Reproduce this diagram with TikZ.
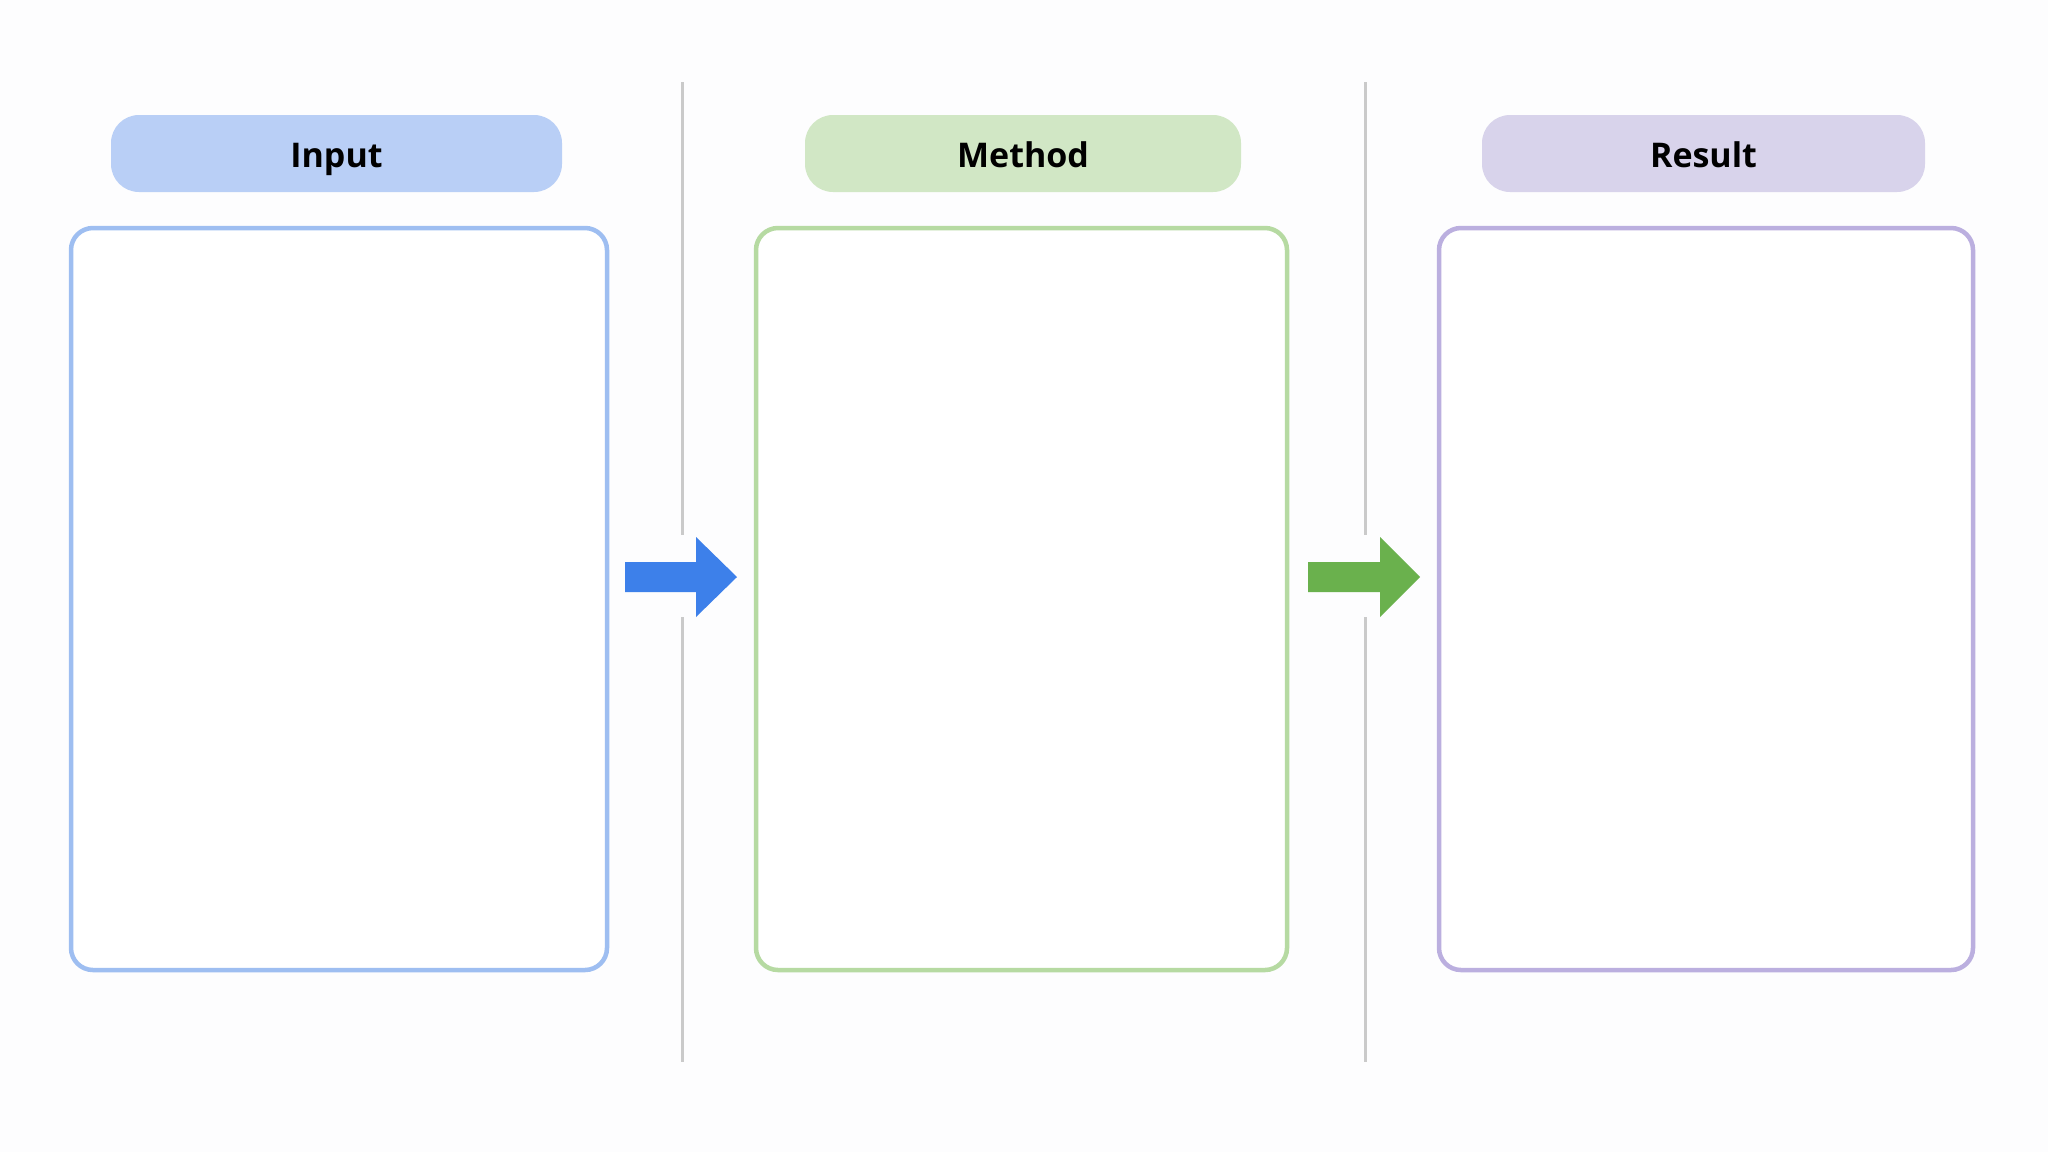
\documentclass[tikz,border=0pt]{standalone}
\usepackage{fontspec}
\setmainfont{Open Sans}
\definecolor{bgc}{HTML}{FDFDFE}
\definecolor{hblue}{HTML}{B9CFF6}
\definecolor{sblue}{HTML}{9EBEF1}
\definecolor{ablue}{HTML}{3D80EA}
\definecolor{hgreen}{HTML}{D1E7C5}
\definecolor{sgreen}{HTML}{B6DAA2}
\definecolor{agreen}{HTML}{6AB14D}
\definecolor{hpurp}{HTML}{D8D3EB}
\definecolor{spurp}{HTML}{BBAFDF}
\definecolor{divc}{HTML}{CACACA}
\tikzset{
  header/.style={inner sep=0pt, anchor=base, font=\fontsize{34}{40}\selectfont\bfseries, text=black},
  hbox/.style={rounded corners=28pt},
  panel/.style={rounded corners=22pt, line width=4.5pt, fill=white},
  divider/.style={draw=divc, line width=3pt},
}
\begin{document}
\begin{tikzpicture}[x=1pt,y=-1pt]
\fill[bgc] (0,0) rectangle (2048,1152);
\useasboundingbox (0,0) rectangle (2048,1152);
% headers
\fill[hbox, hblue] (111,115) rectangle (562,192);
\node[header] (hin) at (336.5,167) {Input};
\fill[hbox, hgreen] (805,115) rectangle (1241,192);
\node[header] (hme) at (1023,167) {Method};
\fill[hbox, hpurp] (1482,115) rectangle (1925,192);
\node[header] (hre) at (1703.5,167) {Result};
% panels
\draw[panel, draw=sblue] (71,228) rectangle (607,970);
\draw[panel, draw=sgreen] (756,228) rectangle (1287,970);
\draw[panel, draw=spurp] (1439,228) rectangle (1973,970);
% dividers
\coordinate (d1a) at (682,82); \coordinate (d1b) at (682,535);
\coordinate (d1c) at (682,617); \coordinate (d1d) at (682,1062);
\coordinate (d2a) at (1365,82); \coordinate (d2b) at (1365,535);
\coordinate (d2c) at (1365,617); \coordinate (d2d) at (1365,1062);
\draw[divider] (d1a) -- (d1b) (d1c) -- (d1d);
\draw[divider] (d2a) -- (d2b) (d2c) -- (d2d);
% arrows
\fill[ablue] (625,562) -- (696,562) -- (696,537) -- (737,577) -- (696,617) -- (696,592) -- (625,592) -- cycle;
\fill[agreen] (1308,562) -- (1380,562) -- (1380,537) -- (1420,577) -- (1380,617) -- (1380,592) -- (1308,592) -- cycle;
\end{tikzpicture}
\end{document}
